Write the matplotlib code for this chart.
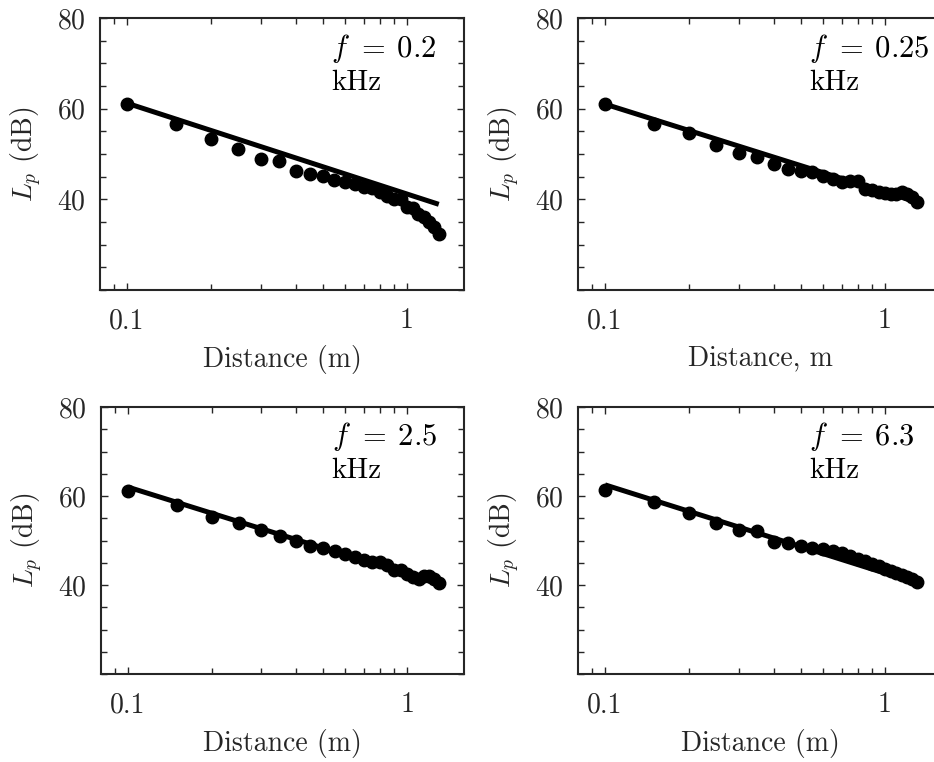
import numpy as np
import matplotlib
matplotlib.use('Agg')
import matplotlib.pyplot as plt
from matplotlib.ticker import FixedLocator, FixedFormatter, NullFormatter

plt.rcParams['font.family'] = 'cmr10'
plt.rcParams['mathtext.fontset'] = 'cm'
plt.rcParams['axes.unicode_minus'] = False
plt.rcParams['axes.formatter.use_mathtext'] = True

# Measurement distances (m)
distance = [0.10, 0.15, 0.20, 0.25, 0.30, 0.35, 0.40, 0.45, 0.50, 0.55, 0.60,
            0.65, 0.70, 0.75, 0.80, 0.85, 0.90, 0.95, 1.00, 1.05, 1.10, 1.15,
            1.20, 1.25, 1.30]

# Measured sound pressure level (dB) for each frequency
lp_0p2 = [61.0, 56.6, 53.3, 51.0, 48.8, 48.5, 46.3, 45.5, 45.2, 44.2, 43.8,
          43.3, 42.7, 42.4, 41.6, 40.7, 40.0, 40.1, 38.3, 38.0, 36.8, 36.1,
          35.0, 34.0, 32.3]
lp_0p25 = [61.0, 56.7, 54.7, 51.9, 50.2, 49.4, 47.7, 46.8, 46.3, 46.1, 45.2,
           44.4, 43.8, 44.0, 44.0, 42.2, 42.0, 41.6, 41.4, 41.2, 41.2, 41.6,
           41.2, 40.5, 39.4]
lp_2p5 = [61.2, 57.9, 55.3, 54.0, 52.4, 51.0, 49.8, 48.8, 48.4, 47.7, 47.0,
          46.2, 45.6, 45.2, 45.1, 44.4, 43.3, 43.3, 42.5, 41.8, 41.4, 42.1,
          42.1, 41.4, 40.4]
lp_6p3 = [61.4, 58.7, 56.2, 54.0, 52.3, 52.1, 49.6, 49.4, 48.8, 48.4, 48.1,
          47.6, 47.1, 46.5, 45.9, 45.3, 44.8, 44.3, 43.7, 43.2, 42.8, 42.3,
          41.9, 41.4, 40.6]

# Fitted line end points (dB at 0.1 m and 1.3 m)
fit_x = [0.1, 1.3]
fit_0p2 = [61.2, 38.9]
fit_0p25 = [61.0, 39.4]
fit_2p5 = [62.0, 40.2]
fit_6p3 = [62.5, 40.4]

freq_labels = ['0.2', '0.25', '2.5', '6.3']
xlabels = ['Distance (m)', 'Distance, m', 'Distance (m)', 'Distance (m)']
levels = [lp_0p2, lp_0p25, lp_2p5, lp_6p3]
fits = [fit_0p2, fit_0p25, fit_2p5, fit_6p3]

W, H = 934, 762
fig = plt.figure(figsize=(W / 100, H / 100), dpi=100)

# axes boxes in pixels: left, top, width, height
boxes = [(100, 18, 364, 272), (578, 18, 364, 272),
         (101, 407, 363, 267), (578, 407, 364, 267)]

spine_col = '#262626'
for i in range(4):
    l, t, w, h = boxes[i]
    ax = fig.add_axes([l / W, 1 - (t + h) / H, w / W, h / H])
    ax.plot(fit_x, fits[i], color='black', lw=3.6, solid_capstyle='butt', zorder=2)
    ax.plot(distance, levels[i], 'o', color='black', ms=9, zorder=3)
    ax.set_xscale('log')
    ax.set_xlim(0.08, 1.6)
    ax.set_ylim(20, 80)

    ax.xaxis.set_major_locator(FixedLocator([0.1, 1.0]))
    ax.xaxis.set_major_formatter(FixedFormatter(['0.1', '1']))
    ax.xaxis.set_minor_locator(FixedLocator([0.09, 0.2, 0.3, 0.4, 0.5, 0.6, 0.7, 0.8, 0.9]))
    ax.xaxis.set_minor_formatter(NullFormatter())
    ax.yaxis.set_major_locator(FixedLocator([40, 60, 80]))
    ax.yaxis.set_minor_locator(FixedLocator(list(range(20, 81, 5))))

    ax.tick_params(which='both', direction='in', top=True, right=True,
                   color=spine_col, width=1.0, labelsize=20, labelcolor='#262626')
    ax.tick_params(which='major', length=5)
    ax.tick_params(axis='x', which='major', pad=13)
    ax.tick_params(axis='y', which='major', pad=10)
    ax.tick_params(which='minor', length=4)
    for s in ax.spines.values():
        s.set_color(spine_col)
        s.set_linewidth(1.5)

    ax.set_xlabel(xlabels[i], fontsize=20, color='#262626', labelpad=8)
    ax.set_ylabel('$L_p$ (dB)', fontsize=20, color='#262626', labelpad=10)

    ax.text(0.635, 0.95, '$f\\:\\,=\\:' + freq_labels[i] + '$', transform=ax.transAxes,
            fontsize=22, va='top', ha='left')
    ax.text(0.635, 0.81, 'kHz', transform=ax.transAxes,
            fontsize=21, va='top', ha='left')

fig.savefig('out.png', dpi=100)
